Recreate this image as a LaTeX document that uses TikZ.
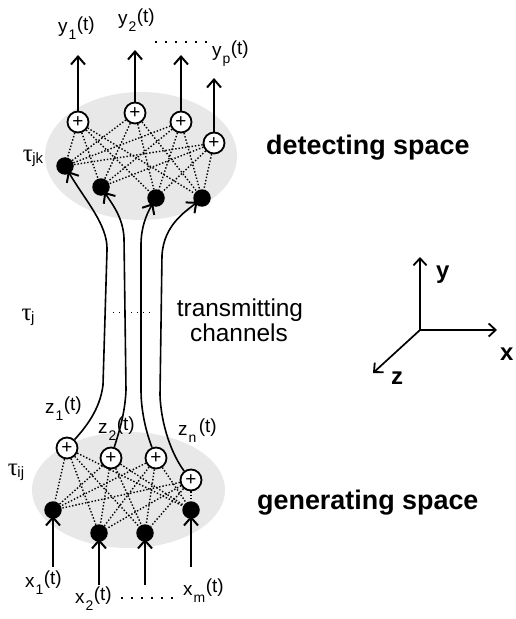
\documentclass[tikz,border=0pt]{standalone}
\usepackage{fontspec}
\setmainfont{Liberation Sans}
\newfontfamily\grkfont{Liberation Serif}
\usetikzlibrary{arrows.meta}
\definecolor{blobgray}{RGB}{232,232,232}
\newcommand{\sigl}[2]{#1\kern1bp\raisebox{-7bp}{\fontsize{14}{14}\selectfont #2}\kern0.5bp\raisebox{2.5bp}{(t)}}
\newcommand{\taul}[1]{{\grkfont\fontsize{25}{25}\selectfont τ}\kern-0.5bp\raisebox{-2bp}{\fontsize{15}{15}\selectfont #1}}
\tikzset{
  blob/.style={fill=blobgray, draw=none},
  plusnode/.style={circle, draw, line width=1.8bp, fill=white, minimum size=21bp, inner sep=0pt, font=\fontsize{19}{19}\selectfont},
  dotnode/.style={circle, fill=black, minimum size=17.5bp, inner sep=0pt},
  link/.style={line width=1.4bp, dash pattern=on 1.4bp off 1.9bp},
  tipv/.style={-{Straight Barb[length=8bp,width=14bp,line width=2bp]}},
  sigarr/.style={line width=1.8bp, tipv},
  chan/.style={line width=1.6bp, tipv, shorten >=-3bp},
  inarr/.style={line width=1.8bp, tipv, shorten >=-3bp},
  axarr/.style={line width=1.7bp, -{Straight Barb[length=7bp,width=13bp,line width=1.8bp]}},
  siglab/.style={anchor=base west, inner sep=0pt, font=\fontsize{19}{19}\selectfont},
  taulab/.style={inner sep=0pt},
  bigbold/.style={anchor=base west, inner sep=0pt, font=\bfseries\fontsize{27}{27}\selectfont},
  axlab/.style={anchor=base west, inner sep=0pt, font=\bfseries\fontsize{24}{24}\selectfont},
  chanlab/.style={anchor=base, inner sep=0pt, font=\fontsize{24.5}{24.5}\selectfont},
  ellip/.style={line width=1.5bp, dash pattern=on 1.5bp off 8.5bp}
}
\begin{document}
\begin{tikzpicture}[x=1bp,y=-1bp]
\useasboundingbox (0,0) rectangle (516,619);
% shaded spaces
\fill[blob] (141,156) ellipse [x radius=96, y radius=64];
\fill[blob] (128.5,490) ellipse [x radius=96.5, y radius=58];

% detecting space nodes
\node[plusnode] (tp1) at (78,122) {+};
\node[plusnode] (tp2) at (135,113) {+};
\node[plusnode] (tp3) at (181,122) {+};
\node[plusnode] (tp4) at (214,143) {+};
\node[dotnode] (td1) at (65,166) {};
\node[dotnode] (td2) at (101,187) {};
\node[dotnode] (td3) at (156,198) {};
\node[dotnode] (td4) at (202,198) {};

% generating space nodes
\node[plusnode] (bp1) at (67,448) {+};
\node[plusnode] (bp2) at (111,458) {+};
\node[plusnode] (bp3) at (156,458) {+};
\node[plusnode] (bp4) at (191,480) {+};
\node[dotnode] (bd1) at (53,510) {};
\node[dotnode] (bd2) at (99,533) {};
\node[dotnode] (bd3) at (145,533) {};
\node[dotnode] (bd4) at (191,510) {};

% dotted links
\foreach \p in {1,2,3,4}{
  \foreach \d in {1,2,3,4}{
    \draw[link] (tp\p) -- (td\d);
    \draw[link] (bp\p) -- (bd\d);
  }
}

% outputs
\coordinate (yo1) at (78,55);
\coordinate (yo2) at (135,50);
\coordinate (yo3) at (181,55);
\coordinate (yo4) at (214,78);
\foreach \i in {1,2,3,4}{ \draw[sigarr] (tp\i) -- (yo\i); }

% inputs
\coordinate (xi1) at (53,567);
\coordinate (xi2) at (99,585);
\coordinate (xi3) at (145,585);
\coordinate (xi4) at (191,567);
\foreach \i in {1,2,3,4}{ \draw[inarr] (xi\i) -- (bd\i); }

% transmitting channels
\draw[chan] (bp1) .. controls (85,428) and (100,410) .. (103,385) -- (107,250) .. controls (108,225) and (85,200) .. (td1);
\draw[chan] (bp2) .. controls (118,435) and (125,415) .. (126,390) -- (124,238) .. controls (123,218) and (113,205) .. (td2);
\draw[chan] (bp3) .. controls (148,437) and (141,415) .. (141,390) -- (141,245) .. controls (141,228) and (146,215) .. (td3);
\draw[chan] (bp4) .. controls (172,455) and (161,425) .. (160,395) -- (162,255) .. controls (164,225) and (185,212) .. (td4);
\coordinate (cm1) at (113,312);
\coordinate (cm2) at (152,312);
\draw[line width=1bp, dash pattern=on 1bp off 5bp] (cm1) -- (cm2);

% signal labels
\node[siglab] (ly1) at (58,33) {\sigl{y}{1}};
\node[siglab] (ly2) at (118,25) {\sigl{y}{2}};
\node[siglab] (lyp) at (212,57) {\sigl{y}{p}};
\coordinate (ye1) at (155,42);
\coordinate (ye2) at (212,42);
\draw[ellip] (ye1) -- (ye2);
\node[siglab] (lz1) at (45,413) {\sigl{z}{1}};
\node[siglab] (lz2) at (98,433) {\sigl{z}{2}};
\node[siglab] (lzn) at (178,435) {\sigl{z}{n\kern2bp}};
\node[siglab] (lx1) at (25,587) {\sigl{x}{1}};
\node[siglab] (lx2) at (75,603) {\sigl{x}{2}};
\node[siglab] (lxm) at (183,595) {\sigl{x}{m}};
\coordinate (xe1) at (121,598);
\coordinate (xe2) at (180,598);
\draw[ellip] (xe1) -- (xe2);

% tau labels
\node[taulab] (tjk) at (33,158) {\taul{jk}};
\node[taulab] (tj) at (28,317) {\taul{j}};
\node[taulab] (tij) at (16,472) {\taul{ij}};

% texts
\node[chanlab] (tr1) at (240,316) {transmitting};
\node[chanlab] (tr2) at (239,341) {channels};
\node[bigbold] (det) at (266,155) {detecting space};
\node[bigbold] (gen) at (257,509) {generating space};

% axes
\coordinate (O) at (420,330);
\coordinate (ax) at (497,330);
\coordinate (ay) at (420,257);
\coordinate (az) at (373,373);
\draw[axarr] (O) -- (ax);
\draw[axarr] (O) -- (ay);
\draw[axarr] (O) -- (az);
\node[axlab] (lax) at (500,360) {x};
\node[axlab] (lay) at (436,278) {y};
\node[axlab] (laz) at (391,384) {z};
\end{tikzpicture}
\end{document}
